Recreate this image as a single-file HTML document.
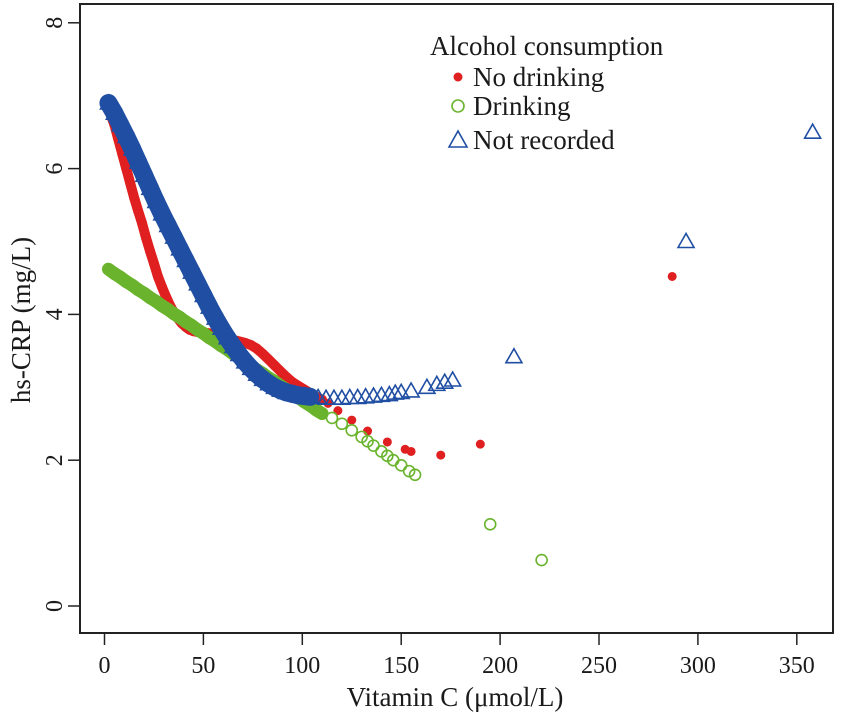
<!DOCTYPE html>
<html><head><meta charset="utf-8"><style>
body{margin:0;background:#fff}
svg text{font-family:"Liberation Serif",serif;fill:#1a1a1a}
</style></head><body>
<svg id="chart" width="850" height="718">
<rect x="80" y="4" width="753" height="629" fill="none" stroke="#222" stroke-width="2"/>
<g id="axes"></g><g id="marks"></g>
<text x="455" y="706" text-anchor="middle" font-size="27">Vitamin C (μmol/L)</text>
<text transform="translate(30,320) rotate(-90)" text-anchor="middle" font-size="27">hs-CRP (mg/L)</text>
<g>
<text x="430" y="55" font-size="27">Alcohol consumption</text>
<circle cx="458" cy="77" r="4.5" fill="#e02020"/>
<text x="473" y="86" font-size="27">No drinking</text>
<circle cx="458" cy="106" r="6" fill="none" stroke="#6ab42d" stroke-width="1.6"/>
<text x="473" y="115" font-size="27">Drinking</text>
<polygon points="449,147 458,131 467,147" fill="none" stroke="#1f4ea3" stroke-width="1.6"/>
<text x="473" y="149" font-size="27">Not recorded</text>
</g>
</svg>
<script>
const xTicks=[0,50,100,150,200,250,300,350];
const yTicks=[0,2,4,6,8];
const redX=[3,5,7,9,11,13,15,17,19,21,23,25,27,29,31,33,35,37,39,41,43,45,47,50,53,56,59,62,65,68,71,74,77,80,83,86,89,92,95,98,101,104,107,110,113,118,125,133,143,152,155,170,190,287];
const redY=[6.75,6.6,6.4,6.2,6.0,5.8,5.6,5.42,5.25,5.05,4.87,4.7,4.52,4.38,4.25,4.13,4.03,3.95,3.88,3.83,3.79,3.77,3.76,3.75,3.74,3.73,3.71,3.68,3.65,3.63,3.61,3.58,3.53,3.46,3.38,3.3,3.22,3.14,3.07,3.02,2.97,2.92,2.87,2.83,2.78,2.68,2.55,2.4,2.25,2.15,2.12,2.07,2.22,4.52];
const greenX=[2,5,8,11,14,17,20,23,26,29,32,35,38,41,44,47,50,53,56,59,62,65,68,71,74,77,80,83,86,89,92,95,98,101,104,107,110,115,120,125,130,133,136,140,143,146,150,154,157,195,221];
const greenY=[4.62,4.56,4.51,4.45,4.4,4.34,4.29,4.23,4.18,4.12,4.07,4.01,3.96,3.9,3.85,3.79,3.74,3.68,3.63,3.57,3.52,3.46,3.41,3.35,3.3,3.24,3.19,3.13,3.08,3.02,2.97,2.91,2.86,2.8,2.75,2.69,2.64,2.58,2.5,2.41,2.32,2.26,2.2,2.12,2.06,2.0,1.93,1.85,1.8,1.12,0.63];
const blueX=[2,5,8,11,14,17,20,23,26,29,32,35,38,41,44,47,50,53,56,59,62,65,68,71,74,77,80,83,86,89,92,95,98,101,104,108,112,116,120,124,128,132,136,140,144,147,150,155,163,168,172,176,207,294,358];
const blueY=[6.9,6.76,6.6,6.44,6.27,6.09,5.91,5.73,5.55,5.38,5.22,5.06,4.9,4.74,4.58,4.42,4.26,4.1,3.95,3.81,3.68,3.56,3.45,3.35,3.26,3.18,3.11,3.05,3.0,2.96,2.93,2.91,2.89,2.88,2.87,2.86,2.85,2.85,2.85,2.86,2.86,2.87,2.88,2.89,2.9,2.92,2.93,2.95,3.0,3.04,3.07,3.1,3.42,5.0,6.5];
const NS='http://www.w3.org/2000/svg';
const sx=v=>104.5+v*1.978, sy=v=>606-v*72.9;
const axes=document.getElementById('axes'), marks=document.getElementById('marks');
function mk(t,a,p){const e=document.createElementNS(NS,t);for(const k in a)e.setAttribute(k,a[k]);p.appendChild(e);return e;}
xTicks.forEach(t=>{
 const l=mk('line',{x1:sx(t),x2:sx(t),y1:633,y2:645,stroke:'#222','stroke-width':1.5},axes);
 
 
 const tx=mk('text',{x:sx(t),y:673,'text-anchor':'middle','font-size':24},axes);tx.textContent=t;
 
 
});
yTicks.forEach(t=>{
 const l=mk('line',{x1:68,x2:80,y1:sy(t),y2:sy(t),stroke:'#222','stroke-width':1.5},axes);
 
 
 const tx=mk('text',{transform:`translate(62,${sy(t)}) rotate(-90)`,'text-anchor':'middle','font-size':24},axes);tx.textContent=t;
 
 
});
redX.forEach((x,i)=>{
 if(i>0&&x<=110){const l=mk('line',{x1:sx(redX[i-1]),y1:sy(redY[i-1]),x2:sx(x),y2:sy(redY[i]),stroke:'#e02020','stroke-width':10,'stroke-linecap':'round'},marks);
 
 }
 const c=mk('circle',{cx:sx(x),cy:sy(redY[i]),r:4.5,fill:'#e02020'},marks);
 
 
});
greenX.forEach((x,i)=>{
 if(i>0&&x<=110){const l=mk('line',{x1:sx(greenX[i-1]),y1:sy(greenY[i-1]),x2:sx(x),y2:sy(greenY[i]),stroke:'#6ab42d','stroke-width':13,'stroke-linecap':'round'},marks);
 
 }
 const c=mk('circle',{cx:sx(x),cy:sy(greenY[i]),r:5.5,fill:x<=110?'#6ab42d':'#fff','fill-opacity':x<=110?1:0,stroke:'#6ab42d','stroke-width':1.6},marks);
 
 
});
blueX.forEach((x,i)=>{
 if(i>0&&x<=104){const l=mk('line',{x1:sx(blueX[i-1]),y1:sy(blueY[i-1]),x2:sx(x),y2:sy(blueY[i]),stroke:'#1f4ea3','stroke-width':18,'stroke-linecap':'round'},marks);
 
 }
 const cx=sx(x),cy=sy(blueY[i]);
 const p=mk('polygon',{points:`${cx-8},${cy+6} ${cx},${cy-8} ${cx+8},${cy+6}`,fill:x<=104?'#1f4ea3':'none',stroke:'#1f4ea3','stroke-width':1.6},marks);
 
 
});
</script>
</body></html>
